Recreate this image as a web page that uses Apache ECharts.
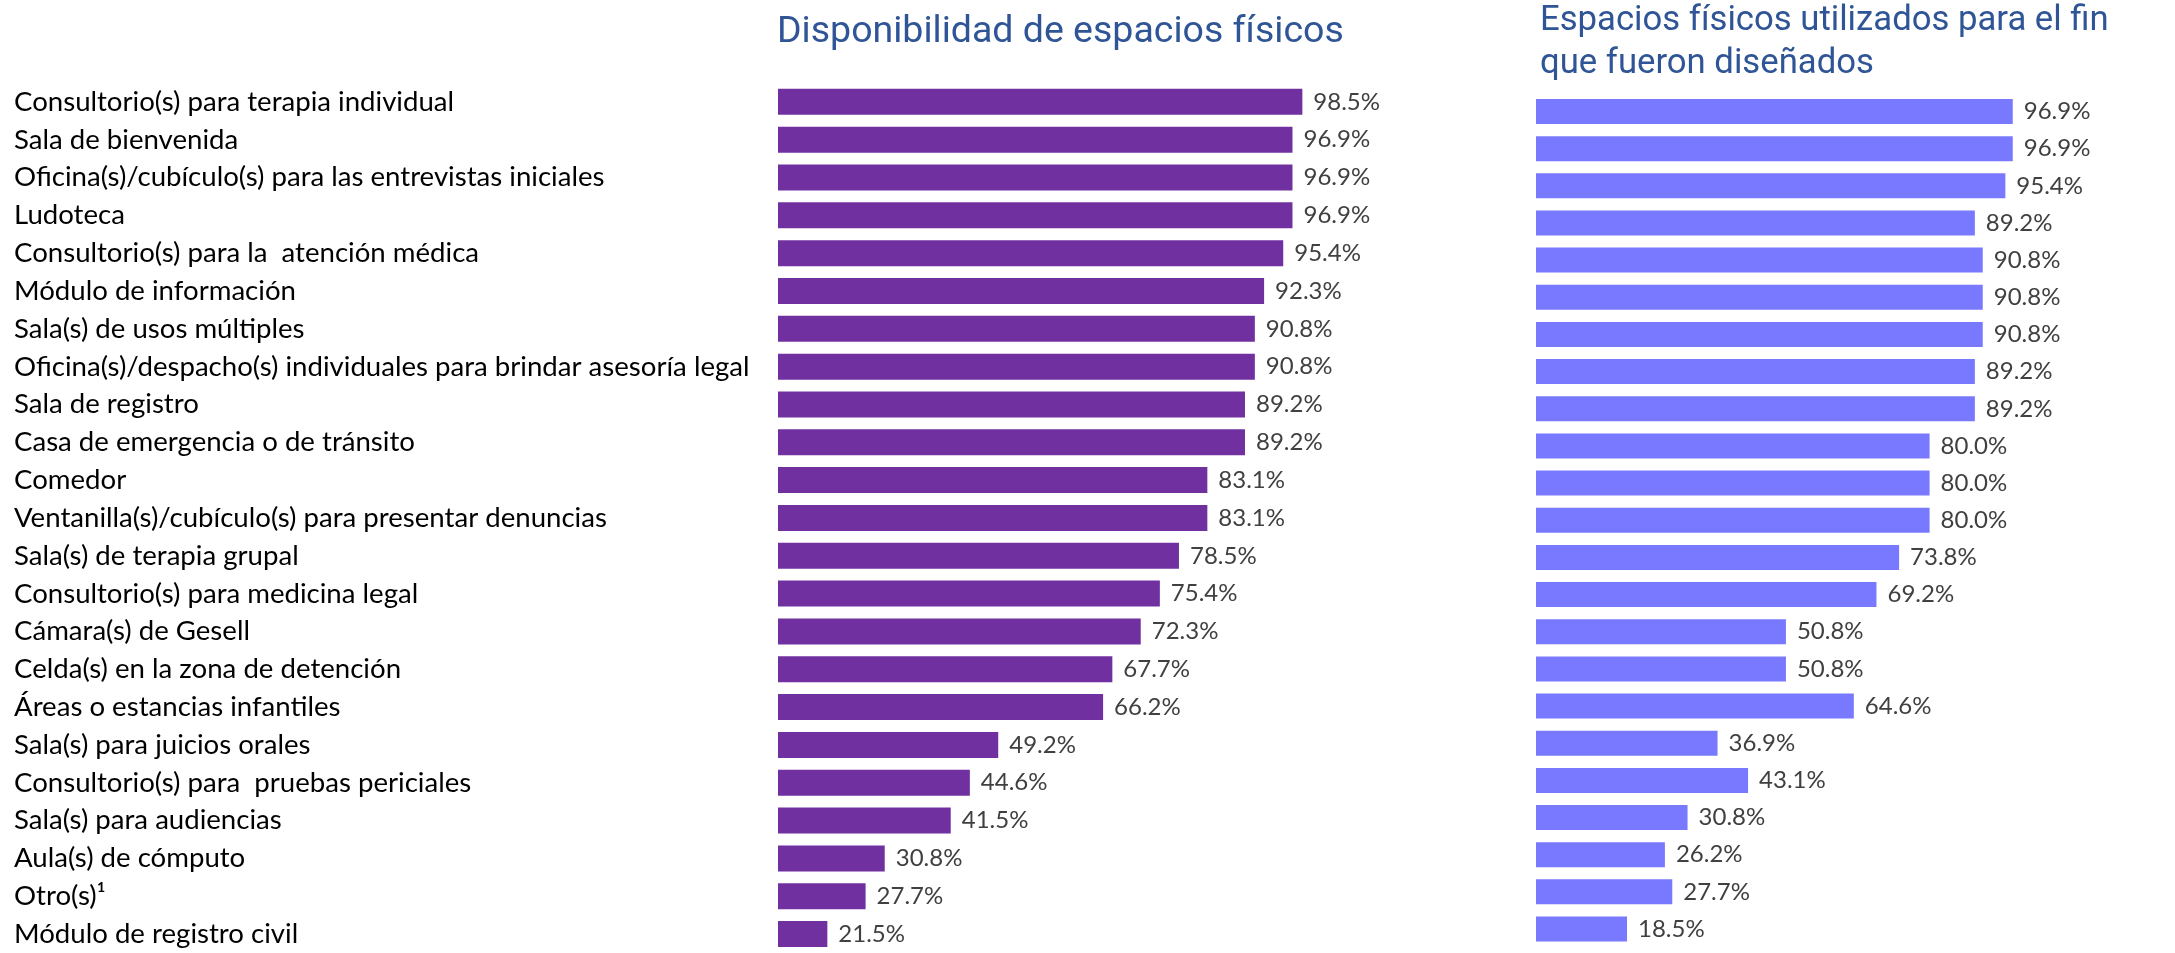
<!DOCTYPE html>
<html>
<head>
<meta charset="utf-8">
<script src="https://cdn.jsdelivr.net/npm/echarts@6/dist/echarts.min.js"></script>
<style>
html,body{margin:0;padding:0;background:#fff;}
#chart{width:2175px;height:953px;}
</style>
</head>
<body>
<div id="chart"></div>
<script>
const categories = [
  "Consultorio(s) para terapia individual",
  "Sala de bienvenida",
  "Oficina(s)/cubículo(s) para las entrevistas iniciales",
  "Ludoteca",
  "Consultorio(s) para la  atención médica",
  "Módulo de información",
  "Sala(s) de usos múltiples",
  "Oficina(s)/despacho(s) individuales para brindar asesoría legal",
  "Sala de registro",
  "Casa de emergencia o de tránsito",
  "Comedor",
  "Ventanilla(s)/cubículo(s) para presentar denuncias",
  "Sala(s) de terapia grupal",
  "Consultorio(s) para medicina legal",
  "Cámara(s) de Gesell",
  "Celda(s) en la zona de detención",
  "Áreas o estancias infantiles",
  "Sala(s) para juicios orales",
  "Consultorio(s) para  pruebas periciales",
  "Sala(s) para audiencias",
  "Aula(s) de cómputo",
  "Otro(s)\u00B9",
  "Módulo de registro civil"
];
const disponibilidad = [98.5, 96.9, 96.9, 96.9, 95.4, 92.3, 90.8, 90.8, 89.2, 89.2, 83.1, 83.1, 78.5, 75.4, 72.3, 67.7, 66.2, 49.2, 44.6, 41.5, 30.8, 27.7, 21.5];
const utilizados = [96.9, 96.9, 95.4, 89.2, 90.8, 90.8, 90.8, 89.2, 89.2, 80.0, 80.0, 80.0, 73.8, 69.2, 50.8, 50.8, 64.6, 36.9, 43.1, 30.8, 26.2, 27.7, 18.5];
const titleLeft = "Disponibilidad de espacios físicos";
const titleRight = "Espacios físicos utilizados para el fin\nque fueron diseñados";

const chart = echarts.init(document.getElementById('chart'), null, {renderer: 'canvas'});
const valueLabel = {
  show: true,
  position: 'right',
  distance: 11,
  color: '#404040',
  fontFamily: 'Lato',
  fontSize: 24,
  formatter: p => p.value.toFixed(1) + '%'
};
const option = {
  backgroundColor: '#ffffff',
  animation: false,
  title: [
    {
      text: titleLeft,
      left: 777, top: 12, padding: 0,
      textStyle: {fontFamily: 'Roboto', fontWeight: 'normal', fontSize: 37.5, color: '#2F5597', lineHeight: 42}
    },
    {
      text: titleRight,
      left: 1540, top: 0, padding: 0,
      textStyle: {fontFamily: 'Roboto', fontWeight: 'normal', fontSize: 34.7, color: '#2F5597', lineHeight: 43}
    }
  ],
  grid: [
    {left: 778, width: 533.6, top: 82.9, height: 878.2, containLabel: false},
    {left: 1536, width: 492, top: 92.9, height: 854.7, containLabel: false}
  ],
  xAxis: [
    {type: 'value', gridIndex: 0, min: 13.5, max: 100, show: false},
    {type: 'value', gridIndex: 1, min: 0, max: 100, show: false}
  ],
  yAxis: [
    {
      type: 'category', gridIndex: 0, data: categories, inverse: true,
      axisLine: {show: false}, axisTick: {show: false}, splitLine: {show: false},
      axisLabel: {align: 'left', margin: 764, color: '#000000', fontFamily: 'Lato', fontSize: 27.6}
    },
    {
      type: 'category', gridIndex: 1, data: categories, inverse: true,
      axisLine: {show: false}, axisTick: {show: false}, splitLine: {show: false},
      axisLabel: {show: false}
    }
  ],
  series: [
    {
      type: 'bar', xAxisIndex: 0, yAxisIndex: 0, data: disponibilidad,
      barWidth: 26, itemStyle: {color: '#7030A0'}, label: valueLabel
    },
    {
      type: 'bar', xAxisIndex: 1, yAxisIndex: 1, data: utilizados,
      barWidth: 25, itemStyle: {color: '#7979FF'}, label: valueLabel
    }
  ]
};
chart.setOption(option);
</script>
</body>
</html>
